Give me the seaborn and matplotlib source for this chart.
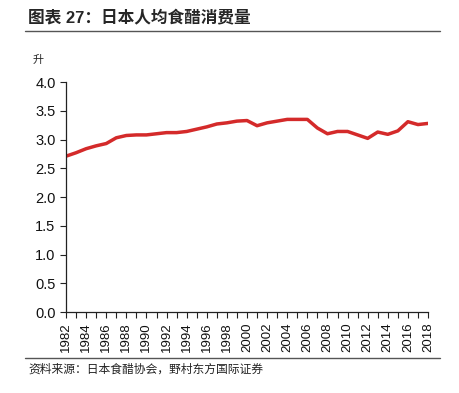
import numpy as np
import pandas as pd
import matplotlib
matplotlib.use("Agg")
import matplotlib.pyplot as plt
import seaborn as sns

# data
years = list(range(1982, 2019))
vinegar = [2.71, 2.77, 2.84, 2.89, 2.93, 3.03, 3.07, 3.08, 3.08, 3.10,
           3.12, 3.12, 3.14, 3.18, 3.22, 3.27, 3.29, 3.32, 3.33, 3.24,
           3.29, 3.32, 3.35, 3.35, 3.35, 3.20, 3.10, 3.14, 3.14, 3.08,
           3.02, 3.13, 3.09, 3.15, 3.31, 3.26, 3.28]
y_ticks = [0.0, 0.5, 1.0, 1.5, 2.0, 2.5, 3.0, 3.5, 4.0]
title = "图表 27：日本人均食醋消费量"
unit = "升"
source = "资料来源：日本食醋协会，野村东方国际证券"

df = pd.DataFrame({"year": years, "value": vinegar})

sns.set_style("ticks")
plt.rcParams["font.family"] = ["Liberation Sans", "Noto Sans CJK SC", "DejaVu Sans"]

fig = plt.figure(figsize=(4.59, 3.93), dpi=100)
ax = fig.add_axes([0.1438, 0.2061, 0.7887, 0.5852])

sns.lineplot(data=df, x="year", y="value", ax=ax, color="#D42A2A", linewidth=2.5)

ax.set_xlim(1982, 2018)
ax.set_ylim(0, 4.0)
ax.set_yticks(y_ticks)
ax.set_yticklabels([f"{v:.1f}" for v in y_ticks], fontsize=10.5, color="#111111")
ax.set_xticks(years[::2])
ax.set_xticklabels([str(y) for y in years[::2]], rotation=90, fontsize=9.5, color="#111111")
ax.set_xticks(years, minor=True)
ax.tick_params(axis="both", which="both", direction="out", length=4, width=0.8, color="#222222")
ax.set_xlabel("")
ax.set_ylabel("")
for s in ["top", "right"]:
    ax.spines[s].set_visible(False)
for s in ["left", "bottom"]:
    ax.spines[s].set_color("#222222")
    ax.spines[s].set_linewidth(0.9)

cjk = ["Noto Sans CJK SC", "DejaVu Sans"]
fig.text(28 / 459, 1 - 18 / 393, title, fontsize=12, fontweight="bold",
         family=["Liberation Sans", "Noto Sans CJK SC"], va="center", ha="left")
fig.text(33 / 459, 1 - 60 / 393, unit, fontsize=8, family=cjk, va="center", ha="left")
fig.text(28 / 459, 1 - 369 / 393, source, fontsize=8.5, family=cjk, va="center", ha="left",
         color="#222222")

fig.add_artist(plt.Line2D([25 / 459, 440 / 459], [1 - 31 / 393, 1 - 31 / 393],
                          color="#555555", linewidth=1.0))
fig.add_artist(plt.Line2D([25 / 459, 440 / 459], [1 - 358 / 393, 1 - 358 / 393],
                          color="#555555", linewidth=1.0))

fig.savefig("out.png", dpi=100)
